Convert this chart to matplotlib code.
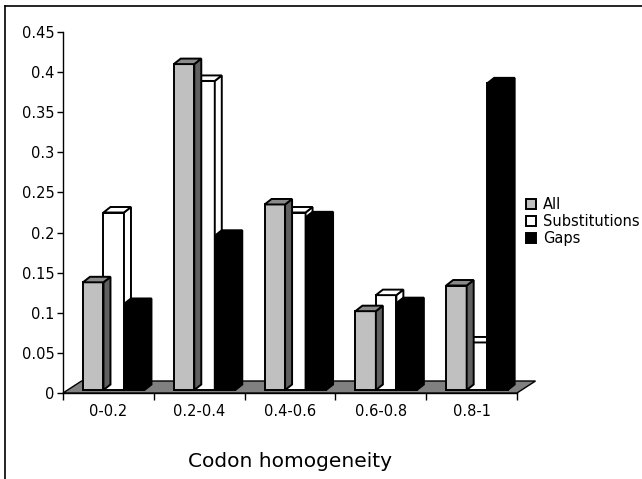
import matplotlib.pyplot as plt
from matplotlib.patches import Polygon, Patch
from matplotlib.lines import Line2D

# Data
categories = ["0-0.2", "0.2-0.4", "0.4-0.6", "0.6-0.8", "0.8-1"]
all_vals = [0.138, 0.410, 0.235, 0.102, 0.134]
subs_vals = [0.225, 0.389, 0.225, 0.122, 0.063]
gaps_vals = [0.111, 0.196, 0.219, 0.112, 0.386]

series = ["All", "Substitutions", "Gaps"]
# front, top, side colours
colors = {
    "All": ("#c0c0c0", "#8a8a8a", "#606060"),
    "Substitutions": ("#ffffff", "#ffffff", "#ffffff"),
    "Gaps": ("#000000", "#000000", "#000000"),
}

W, H = 642, 479
fig = plt.figure(figsize=(W / 100, H / 100), dpi=100)
ax = fig.add_axes([63 / W, 1 - 393 / H, (517 - 63) / W, (393 - 32) / H])
ax.set_xlim(0, 5)
ax.set_ylim(0, 0.45)

# pixel -> data conversion
px_x = 5 / (517 - 63)
px_y = 0.45 / (393 - 32)

# floor
fdx, fdy = 18.5 * px_x, 12 * px_y
floor = Polygon([(0, 0), (5, 0), (5 + fdx, fdy), (fdx, fdy)], closed=True,
                facecolor="#808080", edgecolor="black", lw=1, clip_on=False, zorder=1)
ax.add_patch(floor)

bw = 20.5 * px_x
offs = {"All": 0.22, "Substitutions": 0.22 + bw, "Gaps": 0.22 + 2 * bw}
vals = {"All": all_vals, "Substitutions": subs_vals, "Gaps": gaps_vals}
dx, dy = 7 * px_x, 5.5 * px_y
base = 3 * px_y

z = 2
for i in range(len(categories)):
    for s in ["Substitutions", "All", "Gaps"]:
        x0 = i + offs[s]
        v = vals[s][i]
        fc, tc, sc = colors[s]
        ax.bar(x0, v - base, width=bw, bottom=base, align="edge", color=fc,
               edgecolor="black", lw=1.4, zorder=z, clip_on=False)
        top = Polygon([(x0, v), (x0 + dx, v + dy), (x0 + bw + dx, v + dy), (x0 + bw, v)],
                      closed=True, facecolor=tc, edgecolor="black", lw=1.4, zorder=z, clip_on=False)
        side = Polygon([(x0 + bw, base), (x0 + bw, v), (x0 + bw + dx, v + dy), (x0 + bw + dx, base + dy)],
                       closed=True, facecolor=sc, edgecolor="black", lw=1.4, zorder=z, clip_on=False)
        ax.add_patch(side)
        ax.add_patch(top)
        z += 1

# axes styling
for sp in ["top", "right"]:
    ax.spines[sp].set_visible(False)
ax.spines["left"].set_linewidth(1)
ax.spines["bottom"].set_linewidth(1)
ax.spines["bottom"].set_zorder(0.5)

yt = [0, 0.05, 0.1, 0.15, 0.2, 0.25, 0.3, 0.35, 0.4, 0.45]
ax.set_yticks(yt)
ax.set_yticklabels(["0", "0.05", "0.1", "0.15", "0.2", "0.25", "0.3", "0.35", "0.4", "0.45"],
                   fontsize=10.5)
ax.tick_params(axis="y", direction="out", length=4, width=1, pad=2)

ax.set_xticks(range(6))
ax.set_xticklabels([""] * 6)
ax.tick_params(axis="x", which="major", direction="out", length=5, width=1)
ax.set_xticks([i + 0.5 for i in range(5)], minor=True)
ax.set_xticklabels(categories, minor=True, fontsize=10.5)
ax.tick_params(axis="x", which="minor", length=0, pad=8)

ax.set_xlabel("Codon homogeneity", fontsize=14.5, labelpad=24)

# legend
handles = [Patch(facecolor=colors[s][0], edgecolor="black", lw=1.4) for s in series]
fig.legend(handles, series, loc="upper left", bbox_to_anchor=(526 / W, 1 - 197 / H),
           frameon=False, fontsize=10.5, handlelength=0.7, handleheight=0.7,
           handletextpad=0.45, labelspacing=0.15, borderaxespad=0, borderpad=0)

# outer frame (left and top)
fig.add_artist(Line2D([5 / W, 5 / W], [0, 1 - 6 / H], color="black", lw=1.2, transform=fig.transFigure))
fig.add_artist(Line2D([5 / W, 1], [1 - 6 / H, 1 - 6 / H], color="black", lw=1.2, transform=fig.transFigure))

fig.savefig("out.png", dpi=100)
